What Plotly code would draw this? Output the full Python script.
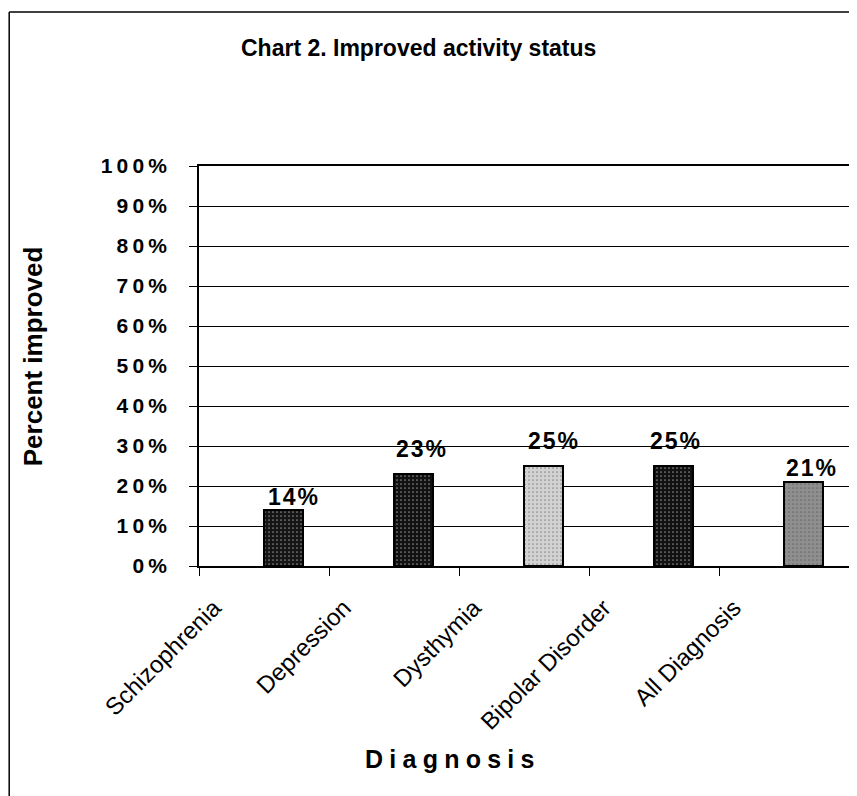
import plotly.graph_objects as go

categories = ["Schizophrenia", "Depression", "Dysthymia", "Bipolar Disorder", "All Diagnosis"]
values = [0.14, 0.23, 0.25, 0.25, 0.21]
bar_colors = ["#151515", "#111111", "#d2d2d2", "#111111", "#8e8e8e"]
pattern_fg = ["#9a9a9a", "#8a8a8a", "#7a7a7a", "#8a8a8a", "#4a4a4a"]
y_ticks = [i / 10 for i in range(11)]
y_ticktext = ["\u2009".join(f"{int(round(v * 100))}%") for v in y_ticks]

# style: manual nudges of the value labels (pixels), as placed in the original
label_xshift = [9, 7, 9, 1, 7]
label_yshift = [-2, 10, 10, 10, -1]

idx = list(range(len(categories)))
FONT = "Liberation Sans, Arial, sans-serif"
BAR_W = 0.3

fig = go.Figure()
fig.add_trace(go.Bar(
    x=idx, y=values,
    width=BAR_W, offset=0,
    marker=dict(color=bar_colors, line=dict(color="black", width=2),
                pattern=dict(shape=".", fgcolor=pattern_fg, size=4, solidity=0.15)),
    showlegend=False,
))
fig.add_trace(go.Scatter(x=[-0.5, len(categories) - 0.5], y=[0, 0], xaxis="x2",
                         mode="markers", marker=dict(opacity=0), showlegend=False,
                         hoverinfo="skip"))

annotations = [
    dict(text="\u200a".join(f"{int(round(v * 100))}%"), x=i + BAR_W / 2, y=v, xref="x", yref="y",
         showarrow=False, xanchor="center", yanchor="bottom", xshift=dx, yshift=dy,
         font=dict(family=FONT, size=23, weight="bold", color="black"))
    for i, v, dx, dy in zip(idx, values, label_xshift, label_yshift)
]
annotations += [
    dict(text="Chart 2. Improved activity status", xref="paper", yref="paper",
         x=0.337, y=1.295, showarrow=False, xanchor="center", yanchor="middle",
         font=dict(family=FONT, size=23, weight="bold", color="black")),
    dict(text="Percent improved", xref="paper", yref="paper",
         x=-0.255, y=0.525, showarrow=False, textangle=-90, xanchor="center", yanchor="middle",
         font=dict(family=FONT, size=26, weight="bold", color="black")),
    dict(text="\u2005".join("Diagnosis"), xref="paper", yref="paper",
         x=0.385, y=-0.4825, showarrow=False, xanchor="center", yanchor="middle",
         font=dict(family=FONT, size=25, weight="bold", color="black")),
]

fig.update_layout(
    width=857, height=796,
    margin=dict(l=191, r=16, t=158, b=238),
    paper_bgcolor="white", plot_bgcolor="white",
    font=dict(family=FONT, color="black"),
    bargap=0,
    xaxis=dict(range=[-0.5, len(categories) - 0.5],
               tickvals=[i - 0.5 for i in range(len(categories) + 1)],
               showticklabels=False, ticks="outside", ticklen=8, tickcolor="black",
               showline=True, linecolor="black", linewidth=1.5, mirror=True,
               showgrid=False, zeroline=False),
    xaxis2=dict(range=[-0.5, len(categories) - 0.5], overlaying="x", anchor="y", side="bottom",
                tickvals=[i - 0.385 for i in idx], ticktext=categories, tickangle=-45,
                ticks="", showgrid=False, zeroline=False, showline=False,
                ticklabelstandoff=22,
                tickfont=dict(family=FONT, size=24, color="black")),
    yaxis=dict(range=[0, 1], tickvals=y_ticks, ticktext=y_ticktext,
               tickfont=dict(family=FONT, size=21, color="black", weight="bold"),
               ticks="outside", ticklen=8, tickcolor="black", ticklabelstandoff=18,
               showgrid=True, gridcolor="black", gridwidth=1,
               showline=True, linecolor="black", linewidth=1.5, mirror=True,
               zeroline=False),
    annotations=annotations,
    shapes=[
        dict(type="line", xref="paper", yref="paper", x0=-0.292, x1=-0.292, y0=-0.62, y1=1.385,
             line=dict(color="black", width=1.5)),
        dict(type="line", xref="paper", yref="paper", x0=-0.292, x1=1.03, y0=1.385, y1=1.385,
             line=dict(color="black", width=1.5)),
    ],
)

fig.write_html("out.html")
